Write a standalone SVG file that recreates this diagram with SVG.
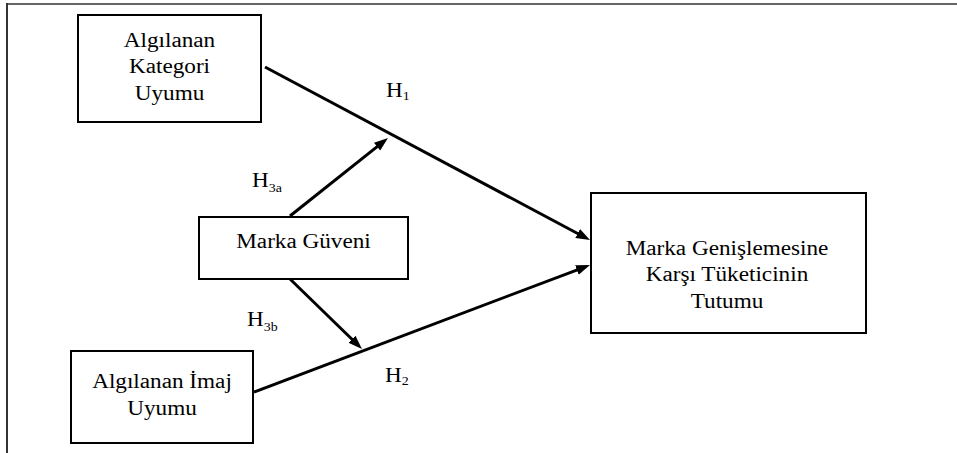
<svg xmlns="http://www.w3.org/2000/svg" width="957" height="453" viewBox="0 0 957 453">
<style>
.box{fill:#fff;stroke:#000;stroke-width:2}
.t{font-family:"Liberation Serif","DejaVu Serif",serif;font-size:20px;fill:#000}
.sub{font-size:12px}
.c{stroke:#000;stroke-width:3;fill:none}
</style>
<defs>
<marker id="ah" markerUnits="userSpaceOnUse" markerWidth="15" markerHeight="11" refX="9" refY="5.5" orient="auto" viewBox="0 0 15 11">
<path d="M0,0.5 L14,5.5 L0,10.5 z" fill="#000"/>
</marker>
</defs>
<rect width="957" height="453" fill="#fff"/>
<g id="frame">
<line x1="6" y1="4" x2="957" y2="4" stroke="#666" stroke-width="2"/>
<line x1="7" y1="3" x2="7" y2="453" stroke="#333" stroke-width="2"/>
</g>
<g id="connectors">
<line class="c" x1="265" y1="67" x2="585.6" y2="237.7" marker-end="url(#ah)"/>
<line class="c" x1="254" y1="392" x2="585.3" y2="266.8" marker-end="url(#ah)"/>
<line class="c" x1="290" y1="216" x2="384.1" y2="141.1" marker-end="url(#ah)"/>
<line class="c" x1="290" y1="279" x2="358.4" y2="345.5" marker-end="url(#ah)"/>
<text class="t" transform="translate(386 97) scale(1.16 1)">H<tspan class="sub" dy="3">1</tspan></text>
<text class="t" transform="translate(252 187) scale(1.16 1)">H<tspan class="sub" dy="5">3a</tspan></text>
<text class="t" transform="translate(247 326) scale(1.16 1)">H<tspan class="sub" dy="5">3b</tspan></text>
<text class="t" transform="translate(385 382) scale(1.16 1)">H<tspan class="sub" dy="3">2</tspan></text>
</g>
<g id="kategori">
<rect class="box" x="78" y="15" width="183" height="107"/>
<text class="t" text-anchor="middle" transform="translate(169.5 0) scale(1.16 1)"><tspan x="0" y="47">Algılanan</tspan><tspan x="0" y="73.5">Kategori</tspan><tspan x="0" y="100">Uyumu</tspan></text>
</g>
<g id="guven">
<rect class="box" x="199" y="217" width="209" height="62"/>
<text class="t" text-anchor="middle" transform="translate(303.5 0) scale(1.16 1)" x="0" y="248">Marka Güveni</text>
</g>
<g id="imaj">
<rect class="box" x="71" y="351" width="182" height="92"/>
<text class="t" text-anchor="middle" transform="translate(162 0) scale(1.16 1)"><tspan x="0" y="388">Algılanan İmaj</tspan><tspan x="0" y="415">Uyumu</tspan></text>
</g>
<g id="tutum">
<rect class="box" x="591" y="193" width="275" height="140"/>
<text class="t" text-anchor="middle" transform="translate(727 0) scale(1.16 1)"><tspan x="0" y="255">Marka Genişlemesine</tspan><tspan x="0" y="281">Karşı Tüketicinin</tspan><tspan x="0" y="308">Tutumu</tspan></text>
</g>
</svg>
